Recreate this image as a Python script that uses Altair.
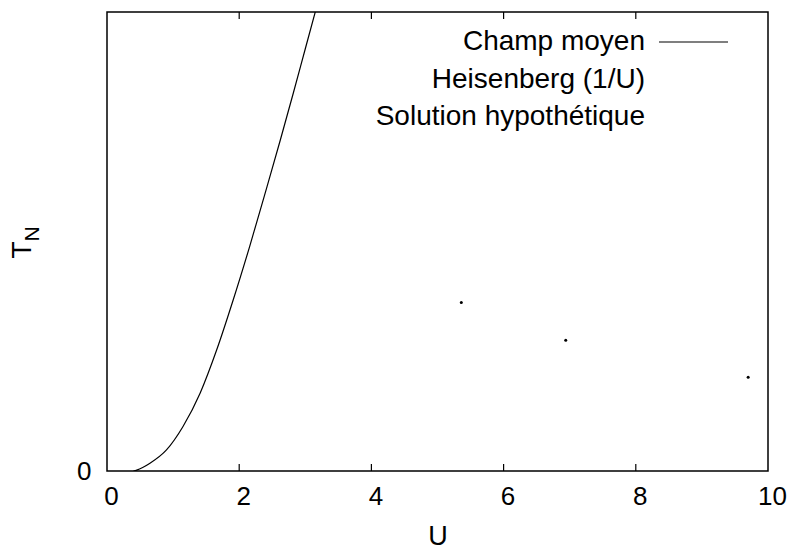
import altair as alt
import pandas as pd

# Mean-field Néel temperature curve
u_mf = [0.40, 0.45, 0.65, 0.90, 1.15, 1.41, 1.66, 1.91, 2.16, 2.42, 2.62, 2.82, 3.00, 3.16]
t_mf = [0.0, 0.002, 0.017, 0.046, 0.097, 0.170, 0.264, 0.373, 0.490, 0.619, 0.720, 0.824, 0.920, 1.005]

# Heisenberg (1/U) dotted points
u_heis = [5.36, 6.94, 9.70]
t_heis = [0.367, 0.285, 0.204]

x_ticks = [2, 4, 6, 8]
legend_labels = ["Champ moyen", "Heisenberg (1/U)", "Solution hypothétique"]
legend_rows_y = [30, 68, 105]

FONT = "Liberation Sans"
W, H = 661, 459

mf = pd.DataFrame({"U": u_mf, "T": t_mf})
heis = pd.DataFrame({"U": u_heis, "T": t_heis})
ticks = pd.DataFrame({"U": x_ticks})

xs = alt.Scale(domain=[0, 10], nice=False)
ys = alt.Scale(domain=[0, 1], nice=False)

x_axis = alt.Axis(values=[0, 2, 4, 6, 8, 10], format="d", ticks=False, grid=False, domain=False,
                  labelFontSize=26, labelFont=FONT, labelColor="black", labelPadding=12,
                  labelOffset=4, labelFlush=False,
                  title="U", titleFontSize=27, titleFont=FONT, titleFontWeight="normal",
                  titleColor="black", titlePadding=14)
y_axis = alt.Axis(values=[0], format="d", ticks=False, grid=False, domain=False,
                  labelFontSize=26, labelFont=FONT, labelColor="black", labelPadding=16,
                  title=None)

curve = alt.Chart(mf).mark_line(color="black", strokeWidth=1.2, clip=True,
                                interpolate="monotone").encode(
    x=alt.X("U:Q", scale=xs, axis=x_axis),
    y=alt.Y("T:Q", scale=ys, axis=y_axis),
)

dots = alt.Chart(heis).mark_point(filled=True, color="black", size=9, opacity=1).encode(
    x=alt.X("U:Q", scale=xs),
    y=alt.Y("T:Q", scale=ys),
)

# inward ticks on the bottom and top edges
bottom_ticks = alt.Chart(ticks).mark_rule(color="black", strokeWidth=1.2).encode(
    x=alt.X("U:Q", scale=xs), y=alt.value(H), y2=alt.value(H - 7))
top_ticks = alt.Chart(ticks).mark_rule(color="black", strokeWidth=1.2).encode(
    x=alt.X("U:Q", scale=xs), y=alt.value(0), y2=alt.value(7))

# legend entries, right aligned
leg_layers = []
for label, ypos in zip(legend_labels, legend_rows_y):
    leg_layers.append(
        alt.Chart(pd.DataFrame({"label": [label]})).mark_text(
            align="right", baseline="middle", fontSize=28, font=FONT, color="black"
        ).encode(x=alt.value(538), y=alt.value(ypos), text="label:N")
    )
leg_line = alt.Chart(pd.DataFrame({"k": [0]})).mark_rule(color="black", strokeWidth=1.2).encode(
    x=alt.value(552), x2=alt.value(621), y=alt.value(legend_rows_y[0]))

# y-axis title T with subscript N
t_title = alt.Chart(pd.DataFrame({"s": ["T"]})).mark_text(
    angle=270, align="center", baseline="middle", fontSize=28, font=FONT, color="black"
).encode(x=alt.value(-84), y=alt.value(238), text="s:N")
n_sub = alt.Chart(pd.DataFrame({"s": ["N"]})).mark_text(
    angle=270, align="center", baseline="middle", fontSize=21, font=FONT, color="black"
).encode(x=alt.value(-74), y=alt.value(222), text="s:N")

chart = alt.layer(curve, dots, bottom_ticks, top_ticks, *leg_layers, leg_line, t_title, n_sub).properties(
    width=W, height=H, autosize="none",
    padding={"left": 107, "top": 12, "right": 20, "bottom": 80},
    background="white",
).configure_view(stroke="black", strokeWidth=1.5)

chart.save("out.html", embed_options={"renderer": "svg", "actions": False})
